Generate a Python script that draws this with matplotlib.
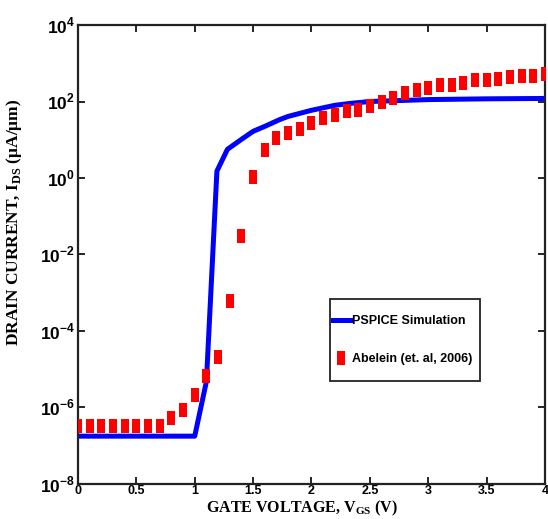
import numpy as np
import matplotlib
matplotlib.use('Agg')
import matplotlib.pyplot as plt
from matplotlib.ticker import FixedLocator, FuncFormatter
from matplotlib.patches import Rectangle

plt.rcParams['mathtext.fontset'] = 'custom'
plt.rcParams['mathtext.rm'] = 'Liberation Sans:bold'
plt.rcParams['mathtext.bf'] = 'Liberation Sans:bold'
plt.rcParams['mathtext.sf'] = 'Liberation Serif:bold'

# PSPICE simulation (blue line)
sim_vgs = [0.0, 1.0, 1.1, 1.19, 1.28, 1.4, 1.5, 1.6, 1.73, 1.8, 2.0, 2.2, 2.33, 2.5, 3.0, 3.5, 4.0]
sim_log_ids = [-6.75, -6.75, -5.32, 0.18, 0.75, 1.01, 1.22, 1.35, 1.53, 1.61, 1.77, 1.90, 1.95, 2.00, 2.05, 2.07, 2.08]

# Abelein (et. al, 2006) measured points (red squares)
meas_vgs = [round(0.1 * i, 1) for i in range(41)]
meas_log_ids = [-6.49, -6.49, -6.49, -6.49, -6.49, -6.49, -6.49, -6.49,
                -6.28, -6.07, -5.68, -5.19, -4.69, -3.21, -1.52, 0.02,
                0.72, 1.04, 1.17, 1.27, 1.45, 1.56, 1.66, 1.74, 1.79,
                1.87, 1.98, 2.10, 2.21, 2.29, 2.36, 2.42, 2.44, 2.49,
                2.55, 2.57, 2.60, 2.65, 2.68, 2.68, 2.72]

xticks = [0, 0.5, 1, 1.5, 2, 2.5, 3, 3.5, 4]
xtick_labels = ['0', '0.5', '1', '1.5', '2', '2.5', '3', '3.5', '4']
yticks = [1e-8, 1e-6, 1e-4, 1e-2, 1e0, 1e2, 1e4]

sim_ids = 10.0 ** np.array(sim_log_ids)
meas_ids = 10.0 ** np.array(meas_log_ids)

fig = plt.figure(figsize=(5.48, 5.19), dpi=100)
ax = fig.add_axes([0.1423, 0.0675, 0.8522, 0.8843])

rect_marker = [(-0.33, -0.5), (0.33, -0.5), (0.33, 0.5), (-0.33, 0.5), (-0.33, -0.5)]

ax.plot(sim_vgs, sim_ids, color='#0000ff', lw=3.6, label='PSPICE Simulation', zorder=2)
ax.plot(meas_vgs, meas_ids, linestyle='none', marker=rect_marker, markersize=9.5,
        color='#ff0000', markeredgewidth=0, label='Abelein (et. al, 2006)', zorder=3)

ax.set_yscale('log')
ax.set_xlim(0, 4)
ax.set_ylim(1e-8, 1e4)
ax.xaxis.set_major_locator(FixedLocator(xticks))
ax.set_xticklabels(xtick_labels)
ax.yaxis.set_major_locator(FixedLocator(yticks))
ax.yaxis.set_minor_locator(FixedLocator([]))
ax.yaxis.set_major_formatter(FuncFormatter(lambda v, p: r'$10^{%d}$' % round(np.log10(v))))

ax.tick_params(direction='in', length=5, width=1.2, top=True, right=True)
ax.tick_params(axis='y', labelsize=12.5, pad=2)
ax.tick_params(axis='x', labelsize=9, pad=1)
for lab in ax.get_xticklabels():
    lab.set_fontfamily('Liberation Sans')
    lab.set_fontweight('bold')
for s in ax.spines.values():
    s.set_linewidth(1.6)
    s.set_color('#222222')

ax.set_ylabel(r'DRAIN CURRENT, I$_{\mathsf{DS}}$ ($\mathsf{\mu}$A/$\mathsf{\mu}$m)',
              fontfamily='Liberation Serif', fontweight='bold', fontsize=12.5)
ax.yaxis.set_label_coords(-0.116, 0.57)

# legend frame drawn separately so the padding can match the original
ax.add_patch(Rectangle((0.5396, 0.2234), 0.3212, 0.1801, transform=ax.transAxes,
                       facecolor='white', edgecolor='#222222', lw=1.3, zorder=4))
leg = ax.legend(loc='center left', bbox_to_anchor=(0.546, 0.3135), borderaxespad=0,
                frameon=False, handlelength=1.35, handletextpad=0.15,
                borderpad=0, labelspacing=2.1,
                prop={'family': 'Liberation Sans', 'weight': 'bold', 'size': 9})
leg.set_zorder(5)

fig.text(0.551, 0.002, r'GATE VOLTAGE, V$_{\mathsf{GS}}$ (V)', ha='center', va='bottom',
         fontfamily='Liberation Serif', fontweight='bold', fontsize=11.5)

fig.savefig('out.png', dpi=100)
